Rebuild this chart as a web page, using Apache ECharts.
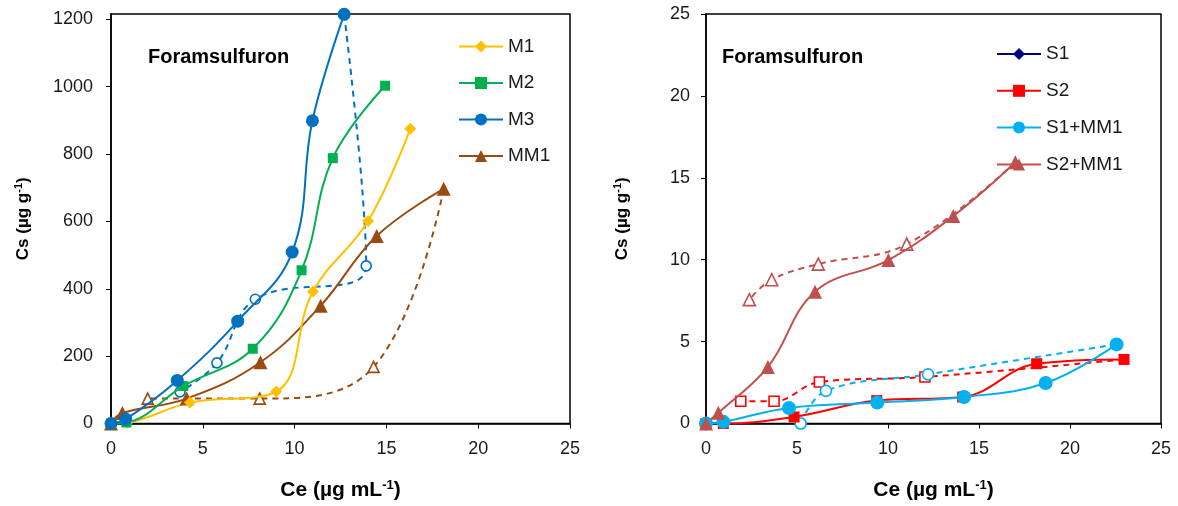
<!DOCTYPE html>
<html>
<head>
<meta charset="utf-8">
<script src="https://cdn.jsdelivr.net/npm/echarts@6/dist/echarts.min.js"></script>
<style>
html,body{margin:0;padding:0;background:#fff;}
#chart{width:1178px;height:506px;}
</style>
</head>
<body>
<div id="chart"></div>
<script>
// ---------- Data (Ce, Cs) ----------
// Left panel
var m1 = [[0,0],[0.9,3],[4.3,62],[9.0,95],[11.0,392],[14.0,601],[16.3,875]];
var m2 = [[0,0],[0.84,3],[3.94,111],[7.72,222],[10.38,455],[12.08,788],[14.93,1003]];
var m3 = [[0,0],[0.8,13],[3.61,128],[6.9,304],[9.87,509],[10.97,899],[12.7,1215]];
var m3Des = [[12.7,1215],[13.9,468],[7.86,369],[5.77,180],[3.76,94]];
var mm1 = [[0,0],[0.62,31],[4.12,74],[8.14,182],[11.42,350],[14.47,557],[18.12,697]];
var mm1Des = [[18.12,697],[14.3,168],[8.1,74],[2.0,74]];
// Right panel
var s1 = [[0,0]];
var s2 = [[0,0],[0.95,0],[4.84,0.4],[9.38,1.4],[14.1,1.62],[18.17,3.65],[22.97,3.91]];
var s2Des = [[22.97,3.91],[12.03,2.84],[6.23,2.53],[3.74,1.36],[1.91,1.36]];
var s1mm1 = [[0,0],[0.95,0.1],[4.56,0.95],[9.41,1.28],[14.18,1.62],[18.66,2.47],[22.56,4.83]];
var s1mm1Des = [[22.56,4.83],[12.2,3.0],[6.59,1.99],[5.2,0]];
var s2mm1 = [[0,0],[0.68,0.65],[3.4,3.45],[5.99,8.05],[10.02,9.98],[13.59,12.67],[17.0,15.95]];
var s2mm1Des = [[17.0,15.95],[11.03,10.95],[6.17,9.73],[3.61,8.78],[2.38,7.56]];

// Tick labels
var xTicks = [0,5,10,15,20,25];
var yTicksLeft = [0,200,400,600,800,1000,1200];
var yTicksRight = [0,5,10,15,20,25];
var leftLegend = ['M1','M2','M3','MM1'];
var rightLegend = ['S1','S2','S1+MM1','S2+MM1'];

var FONT = 'Liberation Sans, Arial, sans-serif';
var C = {M1:'#FFC000', M2:'#00B050', M3:'#0070C0', MM1:'#9B4A0F',
         S1:'#000080', S2:'#FF0000', S1MM1:'#00B0F0', S2MM1:'#C0504D'};

function solid(name, data, color, symbol, size, gi) {
  return {
    name: name, type: 'line', data: data, xAxisIndex: gi, yAxisIndex: gi,
    smooth: 0.4, symbol: symbol, symbolSize: size,
    lineStyle: {color: color, width: 2},
    itemStyle: {color: color, borderColor: color, borderWidth: 0},
    z: 3
  };
}
function dashed(name, data, color, symbol, size, gi) {
  return {
    name: name, type: 'line', data: data, xAxisIndex: gi, yAxisIndex: gi,
    smooth: 0.4, symbol: symbol,
    symbolSize: function (v, p) { return p.dataIndex === 0 ? 0 : size; },
    lineStyle: {color: color, width: 2, type: [6, 5]},
    itemStyle: {color: '#fff', borderColor: color, borderWidth: 1.6},
    z: 2
  };
}

var lineStyleAxis = {color: '#000', width: 1.5};
var tickStyle = {color: '#000', width: 1};
var plain = function (v) { return String(v); };

function xAxis(gi) {
  return {
    type: 'value', gridIndex: gi, min: 0, max: 25, interval: 5,
    axisLine: {show: true, onZero: false, lineStyle: lineStyleAxis},
    axisTick: {show: true, length: 5, lineStyle: tickStyle, customValues: xTicks},
    axisLabel: {color: '#1a1a1a', fontSize: 18, fontFamily: FONT, margin: 17,
                customValues: xTicks, formatter: plain},
    splitLine: {show: false},
    name: 'Ce (µg mL{sup|-1})', nameLocation: 'middle', nameGap: 55,
    nameTextStyle: {fontSize: 21, fontWeight: 'bold', fontFamily: FONT, color: '#000',
      rich: {sup: {fontSize: 13, fontWeight: 'bold', fontFamily: FONT, color: '#000', padding: [0,0,11,0]}}}
  };
}
function yAxis(gi, max, ticks, gap, margin) {
  return {
    type: 'value', gridIndex: gi, min: 0, max: max, interval: ticks[1] - ticks[0],
    axisLine: {show: true, onZero: false, lineStyle: lineStyleAxis},
    axisTick: {show: true, length: 5, lineStyle: tickStyle, customValues: ticks},
    axisLabel: {color: '#1a1a1a', fontSize: 18, fontFamily: FONT, margin: margin,
                customValues: ticks, formatter: plain},
    splitLine: {show: false},
    name: 'Cs (µg g{sup|-1})', nameLocation: 'middle', nameRotate: 90, nameGap: gap,
    nameTextStyle: {fontSize: 17, fontWeight: 'bold', fontFamily: FONT, color: '#000',
      rich: {sup: {fontSize: 11, fontWeight: 'bold', fontFamily: FONT, color: '#000', padding: [0,0,9,0]}}}
  };
}

var option = {
  animation: false,
  backgroundColor: '#fff',
  grid: [
    {left: 111, top: 14, width: 459, height: 411, show: true, borderColor: '#000', borderWidth: 1.5, backgroundColor: 'transparent'},
    {left: 706, top: 14, width: 455, height: 411, show: true, borderColor: '#000', borderWidth: 1.5, backgroundColor: 'transparent'}
  ],
  xAxis: [xAxis(0), xAxis(1)],
  yAxis: [
    yAxis(0, 1216, yTicksLeft, 78, 18),
    yAxis(1, 25, yTicksRight, 74, 16)
  ],
  legend: [
    {data: leftLegend, orient: 'vertical', left: 458, top: 36, padding: 0, itemWidth: 44, itemHeight: 15,
     itemGap: 15.5, selectedMode: false,
     textStyle: {fontSize: 19, fontFamily: FONT, color: '#1a1a1a', lineHeight: 21}},
    {data: rightLegend, orient: 'vertical', left: 996, top: 43.5, padding: 0, itemWidth: 44, itemHeight: 15,
     itemGap: 15.8, selectedMode: false,
     textStyle: {fontSize: 19, fontFamily: FONT, color: '#1a1a1a', lineHeight: 21}}
  ],
  graphic: [
    {type: 'text', left: 148, top: 47, style: {text: 'Foramsulfuron', font: 'bold 20px ' + FONT, fill: '#000'}},
    {type: 'text', left: 722, top: 47, style: {text: 'Foramsulfuron', font: 'bold 20px ' + FONT, fill: '#000'}}
  ],
  series: [
    dashed('M3 des', m3Des, C.M3, 'circle', 10, 0),
    dashed('MM1 des', mm1Des, C.MM1, 'triangle', 11, 0),
    solid('MM1', mm1, C.MM1, 'triangle', 14, 0),
    solid('M1', m1, C.M1, 'diamond', 12, 0),
    solid('M2', m2, C.M2, 'rect', 10, 0),
    solid('M3', m3, C.M3, 'circle', 13, 0),

    dashed('S2 des', s2Des, C.S2, 'rect', 10, 1),
    dashed('S1+MM1 des', s1mm1Des, C.S1MM1, 'circle', 11, 1),
    dashed('S2+MM1 des', s2mm1Des, C.S2MM1, 'triangle', 12, 1),
    solid('S1', s1, C.S1, 'diamond', 11, 1),
    solid('S2', s2, C.S2, 'rect', 11, 1),
    solid('S1+MM1', s1mm1, C.S1MM1, 'circle', 14, 1),
    solid('S2+MM1', s2mm1, C.S2MM1, 'triangle', 14, 1)
  ]
};

var chart = echarts.init(document.getElementById('chart'), null, {renderer: 'canvas'});
chart.setOption(option);
</script>
</body>
</html>
